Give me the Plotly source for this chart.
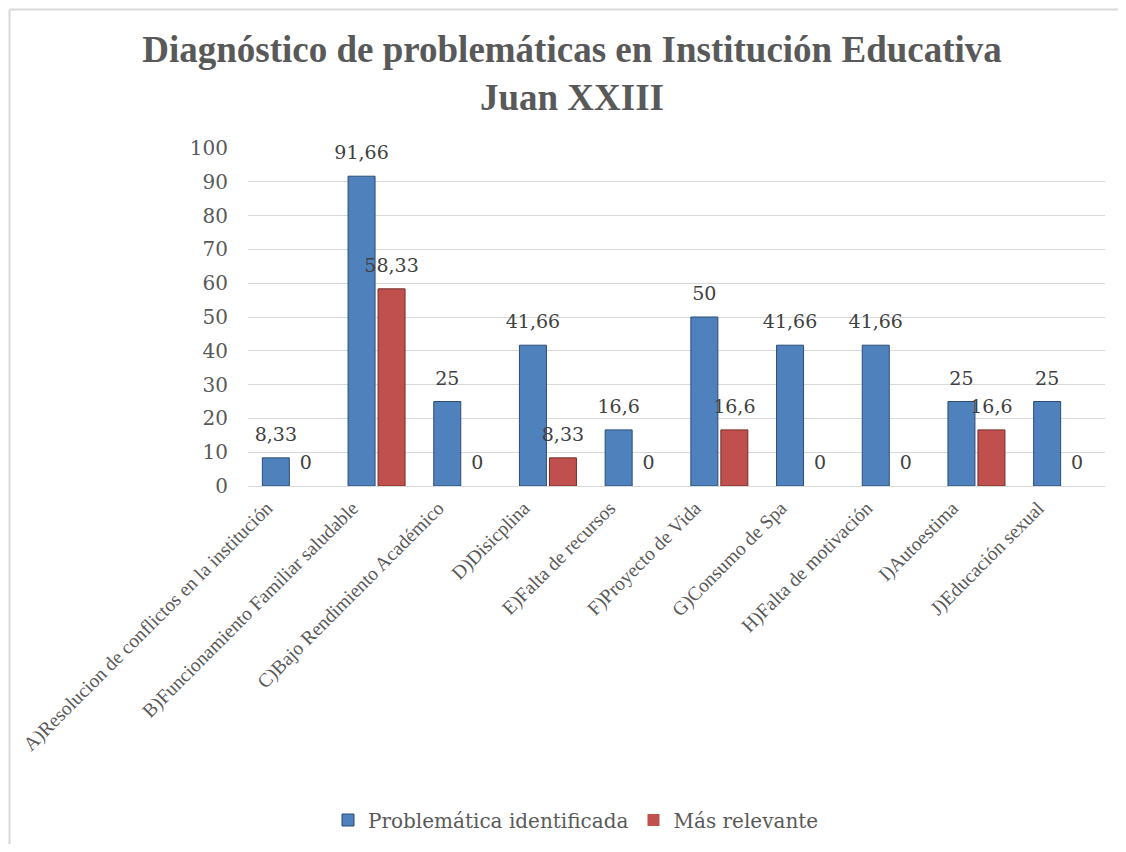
import plotly.graph_objects as go

categories = [
    "A)Resolucion de conflictos en la institución",
    "B)Funcionamiento Familiar saludable",
    "C)Bajo Rendimiento Académico",
    "D)Disicplina",
    "E)Falta de recursos",
    "F)Proyecto de Vida",
    "G)Consumo de Spa",
    "H)Falta de motivación",
    "I)Autoestima",
    "J)Educación sexual",
]
identificada = [8.33, 91.66, 25, 41.66, 16.6, 50, 41.66, 41.66, 25, 25]
relevante = [0, 58.33, 0, 8.33, 0, 16.6, 0, 0, 16.6, 0]
series_names = ["Problemática identificada", "Más relevante"]
y_ticks = [0, 10, 20, 30, 40, 50, 60, 70, 80, 90, 100]


def fmt(v):
    return f"{v:g}".replace(".", ",")


OFF = 8  # page body margin
W, H = 1126 - 2 * OFF, 852 - 2 * OFF
L, R, T, B = 248 - OFF, 1105 - OFF, 148 - OFF, 486 - OFF
pw, ph = R - L, B - T

num_font = dict(family="DejaVu Serif", size=19, color="#404040")
colors = ["#4F81BD", "#C0504D"]
edges = ["#2C4D75", "#772C2A"]

fig = go.Figure()
for name, vals, c, e in zip(series_names, [identificada, relevante], colors, edges):
    fig.add_trace(go.Bar(
        x=categories, y=vals, name=name, offsetgroup=name,
        marker=dict(color=c, line=dict(color=e, width=[0 if v == 0 else 1 for v in vals])),
        hoverinfo="x+y",
    ))
for name, vals in zip(series_names, [identificada, relevante]):
    fig.add_trace(go.Scatter(
        x=categories, y=vals, offsetgroup=name, mode="markers+text",
        marker=dict(size=18, opacity=0), text=[fmt(v) for v in vals],
        textposition="top center", textfont=num_font, showlegend=False,
        cliponaxis=False, hoverinfo="skip",
    ))


def px(x):
    return (x - L) / pw


def py(y):
    return (B - y) / ph


border = dict(color="#D9D9D9", width=2)
fig.update_layout(
    width=W, height=H,
    margin=dict(l=L, r=W - R, t=T, b=H - B, autoexpand=False),
    paper_bgcolor="white", plot_bgcolor="white",
    barmode="group", bargap=0.30, bargroupgap=0.1,
    scattermode="group", scattergap=0.30,
    title=dict(
        text="<b>Diagnóstico de problemáticas en Institución Educativa<br>Juan XXIII</b>",
        font=dict(family="Liberation Serif", size=37, color="#595959"),
        x=(572 - OFF) / W, xanchor="center", xref="container",
        y=1 - 54 / H, yanchor="top", yref="container",
    ),
    legend=dict(
        orientation="h", xref="container", yref="container",
        x=(576 - OFF) / W, xanchor="center", y=1 - (820 - OFF) / H, yanchor="middle",
        font=dict(family="DejaVu Serif", size=20, color="#595959"),
        itemwidth=30, tracegroupgap=0,
    ),
    showlegend=True,
    shapes=[
        dict(type="line", xref="paper", yref="paper",
             x0=px(1.5), x1=px(W + 5), y0=py(1.5), y1=py(1.5), line=border, layer="below"),
        dict(type="line", xref="paper", yref="paper",
             x0=px(1.5), x1=px(1.5), y0=py(1.5), y1=py(H + 5), line=border, layer="below"),
    ],
)
fig.update_yaxes(
    range=[0, 100], tickvals=y_ticks, showgrid=True, gridcolor="#D9D9D9",
    gridwidth=1, zeroline=False, showline=False,
    tickfont=dict(family="DejaVu Serif", size=20, color="#595959"),
    ticklabelstandoff=19,
)
fig.update_xaxes(
    tickangle=-45, showline=True, linecolor="#D9D9D9", linewidth=1,
    tickfont=dict(family="Liberation Serif", size=19.5, color="#595959"),
    ticks="", ticklabelstandoff=2, ticklabelshift=-24,
)

fig.write_html("out.html")
